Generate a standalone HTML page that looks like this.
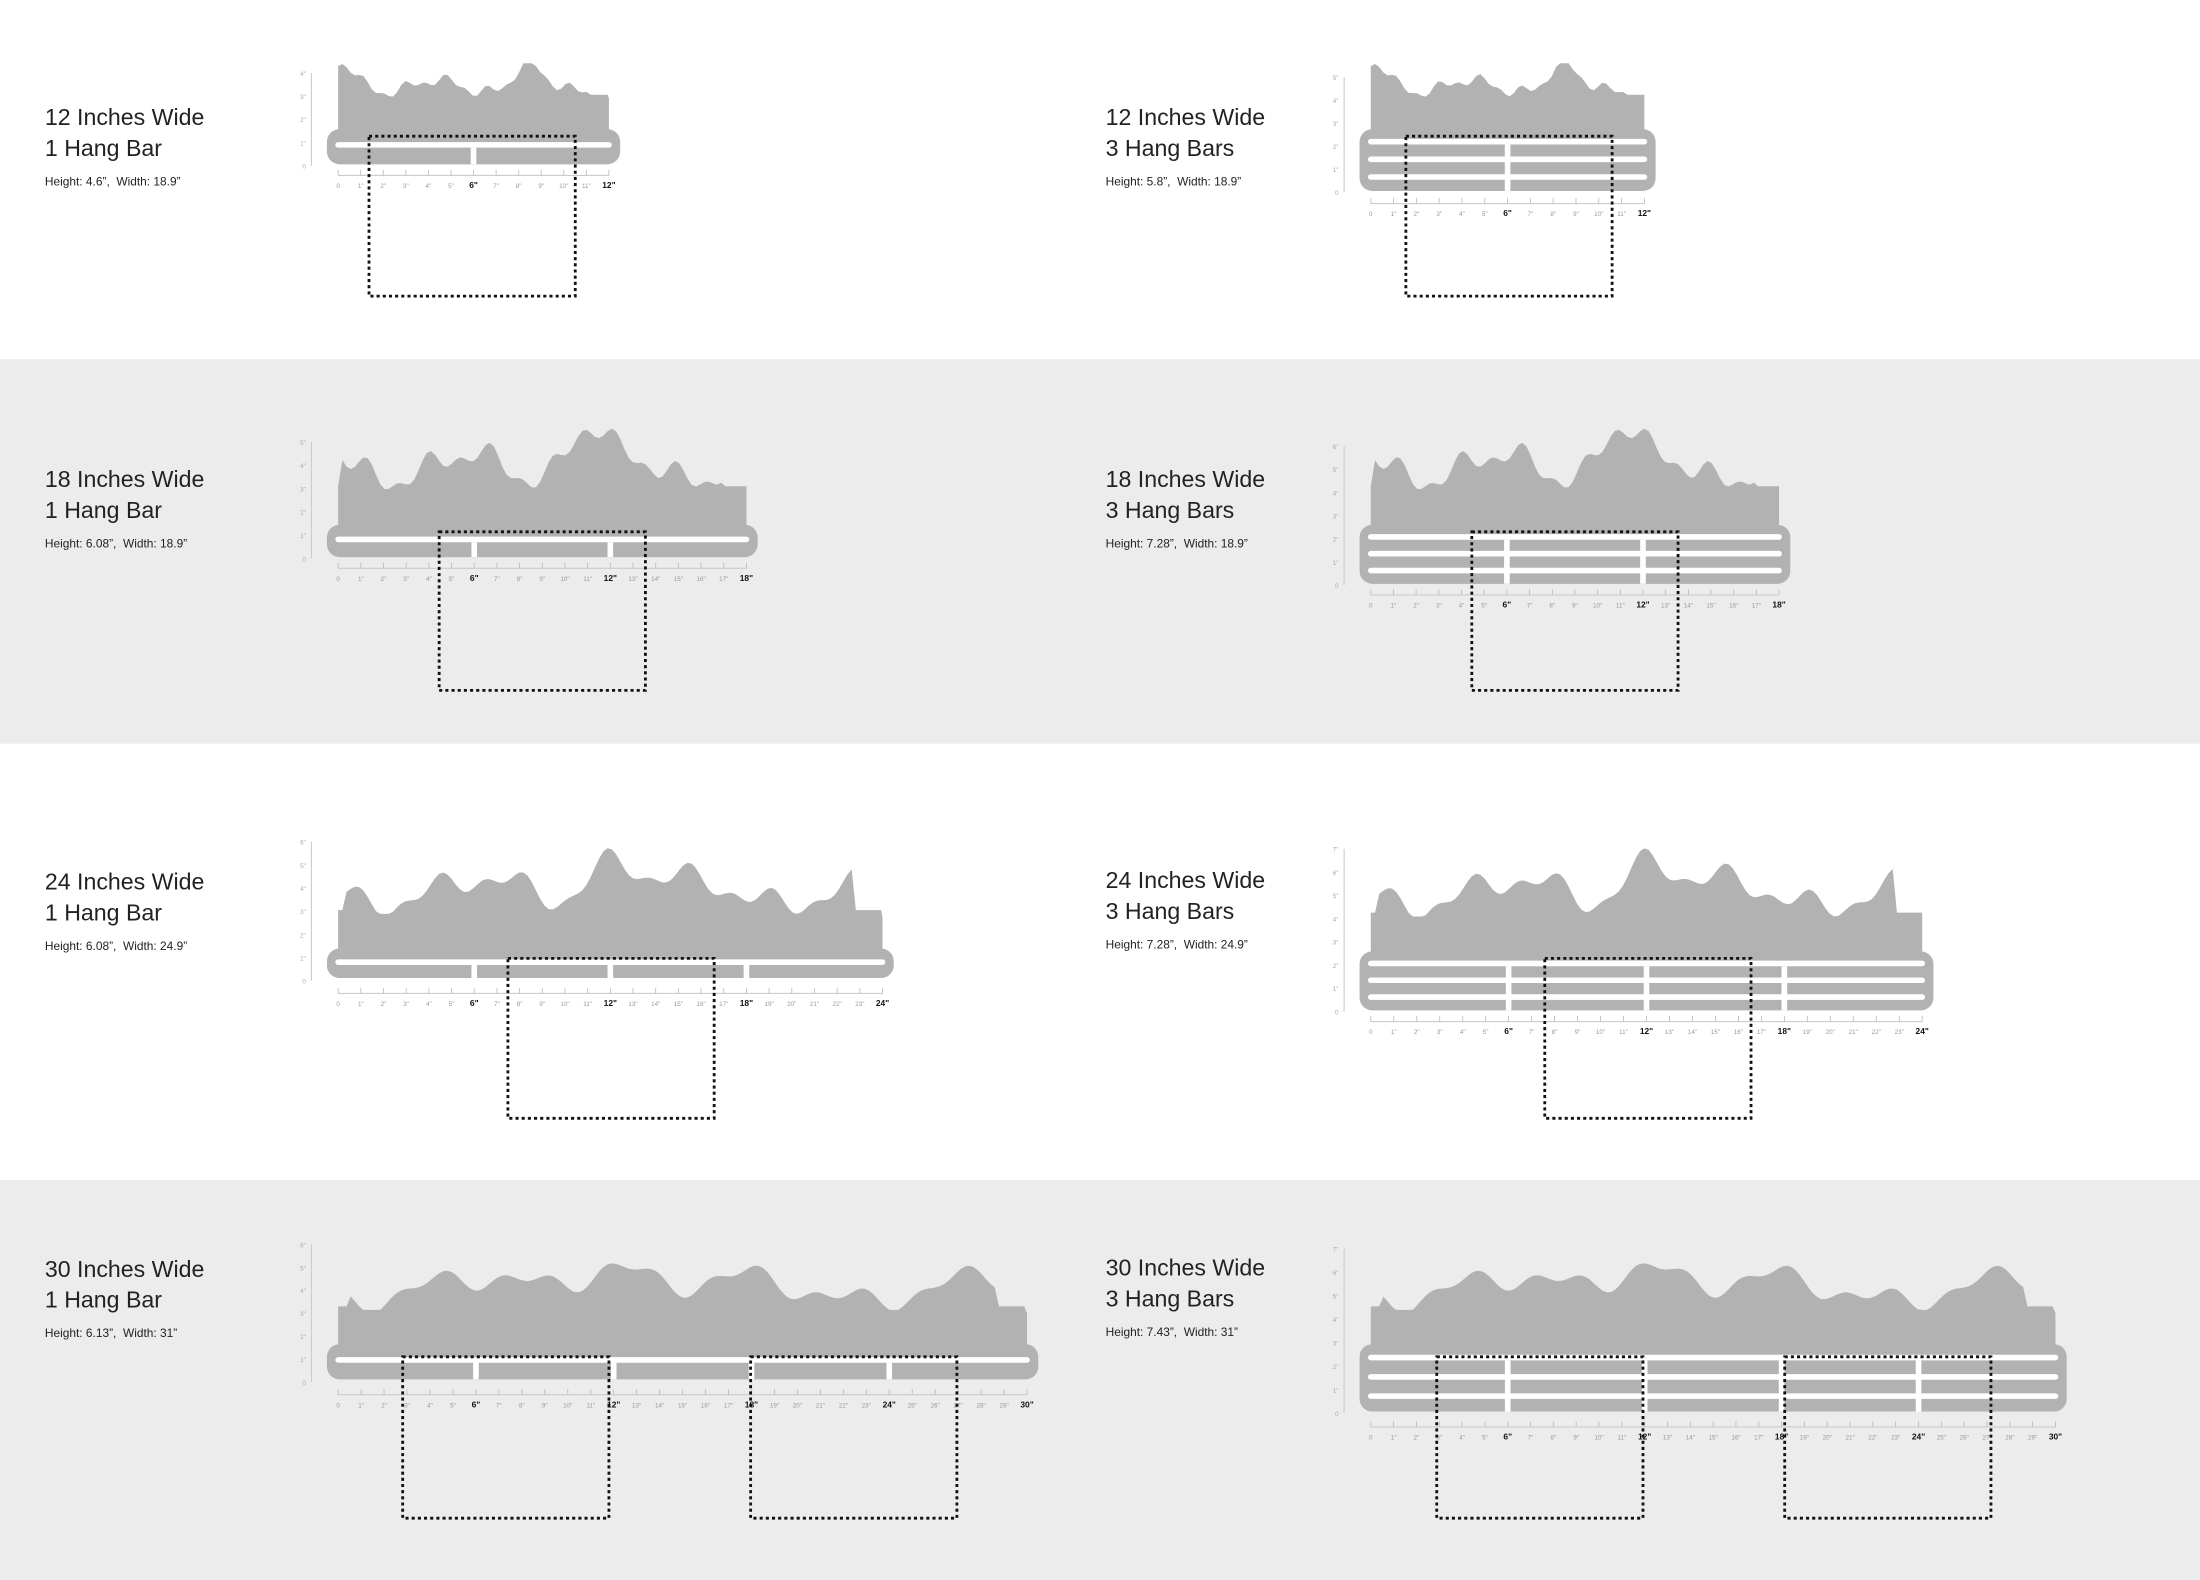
<!DOCTYPE html>
<html><head><meta charset="utf-8"><style>
html,body{margin:0;padding:0;background:#fff}
svg{display:block}
text{font-family:"Liberation Sans",sans-serif}
</style></head><body>
<svg id="s" xmlns="http://www.w3.org/2000/svg" width="2200" height="1580" viewBox="0 0 1568 1126">
<rect x="0" y="0" width="1568" height="1126" fill="#fff"/>
<rect x="0" y="256" width="1568" height="274" fill="#ececec"/>
<rect x="0" y="841" width="1568" height="285" fill="#ececec"/>
<g id="g"></g>
</svg>
<script>
var g=document.getElementById('g');var h='';
function T(x,y,a,b,c){h+='<text x="'+x+'" y="'+y+'" font-size="16.5" fill="#222">'+a+'</text>';
h+='<text x="'+x+'" y="'+(y+22)+'" font-size="16.5" fill="#222">'+b+'</text>';
h+='<text x="'+x+'" y="'+(y+43)+'" font-size="8.5" fill="#222">'+c+'</text>';}
T(32,89,'12 Inches Wide','1 Hang Bar','Height: 4.6”,&#160; Width: 18.9”');
T(788,89,'12 Inches Wide','3 Hang Bars','Height: 5.8”,&#160; Width: 18.9”');
T(32,347,'18 Inches Wide','1 Hang Bar','Height: 6.08”,&#160; Width: 18.9”');
T(788,347,'18 Inches Wide','3 Hang Bars','Height: 7.28”,&#160; Width: 18.9”');
T(32,634,'24 Inches Wide','1 Hang Bar','Height: 6.08”,&#160; Width: 24.9”');
T(788,633,'24 Inches Wide','3 Hang Bars','Height: 7.28”,&#160; Width: 24.9”');
T(32,910,'30 Inches Wide','1 Hang Bar','Height: 6.13”,&#160; Width: 31”');
T(788,909,'30 Inches Wide','3 Hang Bars','Height: 7.43”,&#160; Width: 31”');
function R(x0,x1,yTop,yb,ye,nb,N,yl,boxes,seed){
 var col='#b2b2b2';
 var bodyTop=yb-22;
 var p='M'+(x0+8)+' '+ye+' L'+(x0+8)+' '+bodyTop;
 var W=x1-x0-16;
 for(var x=x0+8;x<=x1-8;x+=3){
  var t=(x-x0)/W;
  var v=0.5+0.25*Math.sin(t*17+seed)+0.18*Math.sin(t*41+seed*2)+0.12*Math.sin(t*83+seed*3);
  var pk=Math.pow(Math.max(0,Math.sin(t*9.3+seed)),6)*0.5;
  v=Math.min(1,Math.max(0.05,v*0.7+pk));
  if(t<0.03||t>0.97)v=0.1;
  var y=bodyTop-(bodyTop-yTop)*v;
  p+=' L'+x.toFixed(1)+' '+y.toFixed(1);
 }
 p+=' L'+(x1-8)+' '+bodyTop+' L'+(x1-8)+' '+ye+' Z';
 h+='<path d="'+p+'" fill="'+col+'"/>';
 h+='<rect x="'+x0+'" y="'+yb+'" width="'+(x1-x0)+'" height="'+(ye-yb)+'" rx="9" fill="'+col+'"/>';
 var pitch=(ye-yb)/(nb+0.5);
 for(var k=0;k<nb;k++){
  var sy=yb+pitch*(k+0.55);
  h+='<rect x="'+(x0+6)+'" y="'+sy.toFixed(1)+'" width="'+(x1-x0-12)+'" height="4" rx="2" fill="#fff"/>';
 }
 var segs=Math.max(2,Math.round(N/6));
 for(var s=1;s<segs;s++){
  var gx=x0+8+W*s/segs;
  h+='<rect x="'+(gx-2)+'" y="'+(yb+pitch*0.55+4)+'" width="4" height="'+(ye-yb-pitch*0.55-4)+'" fill="#fff"/>';
 }
 h+='<line x1="'+(x0+8)+'" y1="'+(yl-6)+'" x2="'+(x1-8)+'" y2="'+(yl-6)+'" stroke="#ccc" stroke-width="0.8"/>';
 for(var i=0;i<=N;i++){
  var lx=x0+8+W*i/N;
  h+='<line x1="'+lx+'" y1="'+(yl-10)+'" x2="'+lx+'" y2="'+(yl-6)+'" stroke="#bbb" stroke-width="0.6"/>';
  var big=(i>0&&i%6==0);
  h+='<text x="'+lx+'" y="'+(yl+3)+'" font-size="'+(big?6:4.5)+'" text-anchor="middle" fill="'+(big?'#111':'#999')+'"'+(big?' font-weight="bold"':'')+'>'+(i==0?'0':i+'"')+'</text>';
 }
 for(var j=0;j<boxes.length;j++){var b=boxes[j];
  h+='<rect x="'+b[0]+'" y="'+b[1]+'" width="'+(b[2]-b[0])+'" height="'+(b[3]-b[1])+'" fill="none" stroke="#111" stroke-width="2" stroke-dasharray="2.2 2.2"/>';}
}
function VR(x,y0,y1,n){h+='<line x1="'+x+'" y1="'+y0+'" x2="'+x+'" y2="'+y1+'" stroke="#ccc" stroke-width="0.8"/>';
 for(var i=0;i<=n;i++){var y=y1-(y1-y0)*i/n;h+='<text x="'+(x-4)+'" y="'+(y+2)+'" font-size="4.5" fill="#aaa" text-anchor="end">'+(i==0?'0':i+'"')+'</text>';}}
R(233,442,45,92,117,1,12,131,[[263,97,410,211]],1);VR(222,52,118,4);
R(969,1180,45,92,136,3,12,151,[[1002,97,1149,211]],1);VR(958,55,137,5);
R(233,540,297,374,397,1,18,411,[[313,379,460,492]],2);VR(222,315,398,5);
R(969,1276,297,374,416,3,18,430,[[1049,379,1196,492]],2);VR(958,318,417,6);
R(233,637,600,676,697,1,24,714,[[362,683,509,797]],3);VR(222,600,699,6);
R(969,1378,600,678,720,3,24,734,[[1101,683,1248,797]],3);VR(958,605,721,7);
R(233,740,886,958,983,1,30,1000,[[287,967,434,1082],[535,967,682,1082]],4);VR(222,887,985,6);
R(969,1473,886,958,1006,3,30,1023,[[1024,967,1171,1082],[1272,967,1419,1082]],4);VR(958,890,1007,7);
g.innerHTML=h;
</script>
</body></html>
